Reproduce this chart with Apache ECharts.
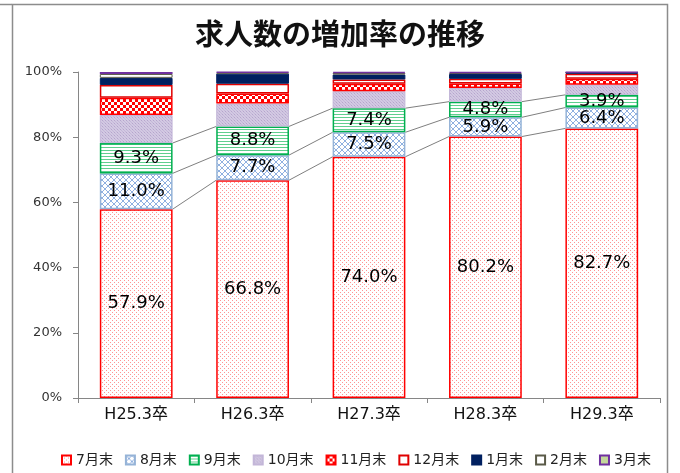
<!DOCTYPE html>
<html><head><meta charset="utf-8">
<script src="https://cdn.jsdelivr.net/npm/echarts@6/dist/echarts.min.js"></script>
<style>html,body{margin:0;padding:0;background:#fff}#c{width:680px;height:473px}</style>
</head><body><div id="c"></div>
<script>
const categories = ['H25.3卒','H26.3卒','H27.3卒','H28.3卒','H29.3卒'];
const seriesNames = ['7月末','8月末','9月末','10月末','11月末','12月末','1月末','2月末','3月末'];
const jul = [57.9, 66.8, 74.0, 80.2, 82.7];
const aug = [11.0, 7.7, 7.5, 5.9, 6.4];
const sep = [9.3, 8.8, 7.4, 4.8, 3.9];
const oct = [8.6, 7.0, 5.2, 4.2, 3.1];
const nov = [5.3, 3.1, 2.3, 1.4, 1.8];
const dec = [3.9, 3.0, 1.3, 1.4, 1.6];
const jan = [2.2, 3.1, 1.5, 1.5, 0.3];
const feb = [1.2, 0.3, 0.5, 0.3, 0.1];
const mar = [0.6, 0.2, 0.3, 0.3, 0.1];
const yTicks = [0, 20, 40, 60, 80, 100];

function pat(w, h, bg, draw) {
  const c = document.createElement('canvas');
  c.width = w; c.height = h;
  const g = c.getContext('2d');
  g.fillStyle = bg; g.fillRect(0, 0, w, h);
  draw(g);
  return { image: c, repeat: 'repeat' };
}
const pDots = pat(4, 4, '#ffffff', g => { g.fillStyle = 'rgba(255,40,40,0.5)'; g.fillRect(0,0,1,1); g.fillRect(2,2,1,1); });
const pCross = pat(6, 6, '#ffffff', g => { g.fillStyle = '#8fb0e0'; for (let i=0;i<6;i++){ g.fillRect(i,i,1,1); g.fillRect(i,5-i,1,1);} });
const pHoriz = pat(4, 3, '#ffffff', g => { g.fillStyle = '#5fcf8e'; g.fillRect(0,0,4,1); });
const pLav = pat(3, 3, '#d3c9e2', g => { g.fillStyle = '#b5a5cd'; g.fillRect(0,0,1,1); g.fillStyle = '#c3b7d9'; g.fillRect(1,1,1,1); g.fillRect(2,2,1,1); });
const pCheck = pat(6, 6, '#ffffff', g => { g.fillStyle = '#ff0000'; g.fillRect(0,0,3,3); g.fillRect(3,3,3,3); });

const dataArr = [jul, aug, sep, oct, nov, dec, jan, feb, mar];
const styles = [
  { color: pDots, borderColor: '#ff0000', borderWidth: 1.5 },
  { color: pCross, borderColor: '#95b3d7', borderWidth: 1.5 },
  { color: pHoriz, borderColor: '#00b050', borderWidth: 1.5 },
  { color: pLav, borderColor: '#c3b6d8', borderWidth: 1 },
  { color: pCheck, borderColor: '#ff0000', borderWidth: 1.5 },
  { color: '#ffffff', borderColor: '#e00000', borderWidth: 1.5 },
  { color: '#002060', borderColor: '#002060', borderWidth: 1 },
  { color: '#ffffff', borderColor: '#5a5a48', borderWidth: 1 },
  { color: '#c4d79b', borderColor: '#7030a0', borderWidth: 1.5 }
];

const series = dataArr.map((d, k) => ({
  name: seriesNames[k],
  type: 'bar',
  stack: 'total',
  barWidth: '62.5%',
  data: d,
  itemStyle: styles[k],
  emphasis: { disabled: true },
  label: k < 3 ? {
    show: true, position: 'inside', formatter: p => p.value.toFixed(1) + '%',
    fontFamily: 'DejaVu Sans', fontSize: 18, color: '#000'
  } : { show: false },
  z: 3
}));

// series lines (7月, 7+8月, 7+8+9月 tops)
const cum = [];
let run = categories.map(() => 0);
for (let k = 0; k < 3; k++) {
  run = run.map((v, i) => v + dataArr[k][i]);
  cum.push(run.slice());
}
const lineData = [];
cum.forEach(level => { for (let i = 0; i < categories.length - 1; i++) lineData.push([i, level[i], level[i + 1]]); });

series.push({
  name: 'serieslines',
  type: 'custom',
  silent: true,
  z: 2,
  data: lineData,
  renderItem: function (params, api) {
    const i = api.value(0);
    const p1 = api.coord([i, api.value(1)]);
    const p2 = api.coord([i + 1, api.value(2)]);
    const bw = api.size([1, 0])[0] * 0.625;
    return { type: 'line', shape: { x1: p1[0] + bw / 2, y1: p1[1], x2: p2[0] - bw / 2, y2: p2[1] },
      style: { stroke: '#7f7f7f', lineWidth: 1 } };
  }
});

const chart = echarts.init(document.getElementById('c'), null, { renderer: 'canvas' });
chart.setOption({
  animation: false,
  backgroundColor: '#ffffff',
  title: { text: '求人数の増加率の推移', left: 'center', top: 14,
    textStyle: { fontFamily: 'Noto Sans CJK JP', fontSize: 29, fontWeight: 'bold', color: '#111' } },
  graphic: [
    { type: 'rect', shape: { x: 12.5, y: 4.5, width: 655, height: 490 }, style: { fill: 'none', stroke: '#8c8c8c', lineWidth: 1.5 }, silent: true },
    { type: 'line', shape: { x1: 0, y1: 4.5, x2: 12, y2: 4.5 }, style: { stroke: '#8c8c8c', lineWidth: 1.5 }, silent: true }
  ],
  grid: { left: 78, right: 20, top: 72, bottom: 75, containLabel: false },
  legend: {
    data: seriesNames, bottom: 1, left: 56, itemWidth: 9, itemHeight: 9, itemGap: 12, icon: 'rect',
    textStyle: { fontFamily: 'DejaVu Sans, Noto Sans CJK JP', fontSize: 14, color: '#222' }
  },
  xAxis: {
    type: 'category', data: categories,
    axisLine: { lineStyle: { color: '#868686', width: 1 } },
    axisTick: { show: true, length: 5, lineStyle: { color: '#868686' } },
    axisLabel: { fontFamily: 'DejaVu Sans, Noto Sans CJK JP', fontSize: 16, color: '#111', margin: 9 }
  },
  yAxis: {
    type: 'value', min: yTicks[0], max: yTicks[yTicks.length - 1], interval: 20,
    axisLine: { show: true, lineStyle: { color: '#868686', width: 1 } },
    axisTick: { show: true, length: 5, lineStyle: { color: '#868686' } },
    splitLine: { show: false },
    axisLabel: { formatter: '{value}%', fontFamily: 'DejaVu Sans', fontSize: 13, color: '#333', margin: 16 }
  },
  series: series
});
</script></body></html>
